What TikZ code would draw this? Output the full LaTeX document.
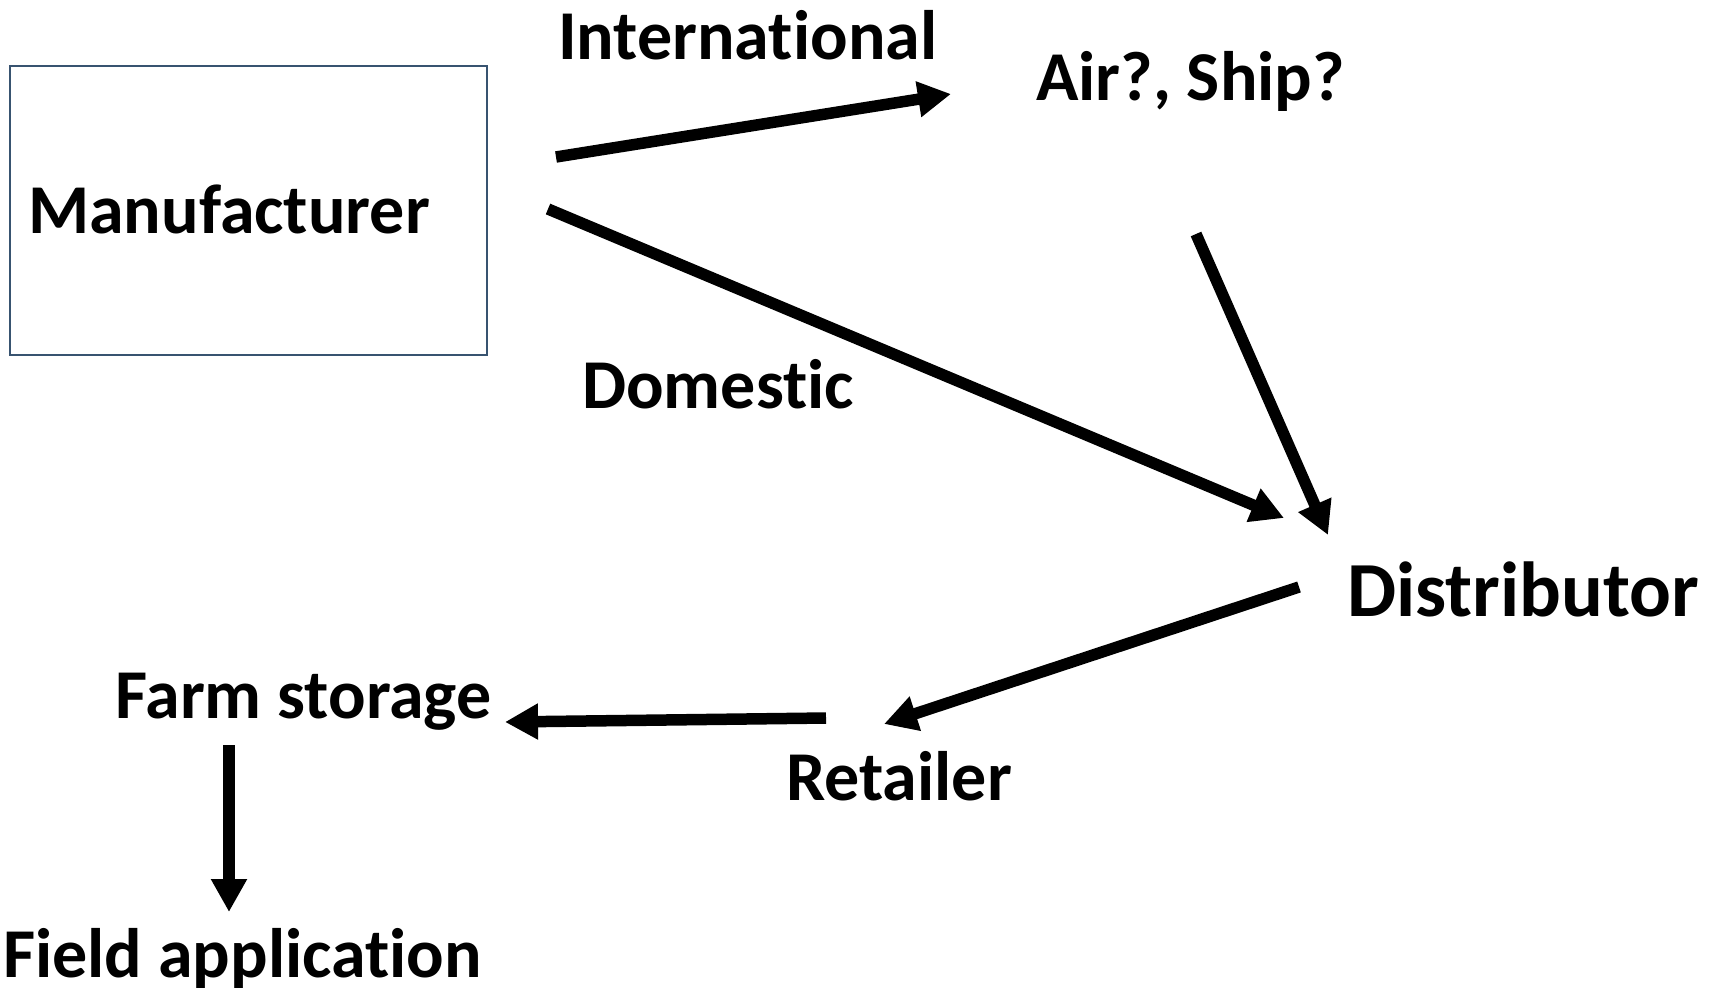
\documentclass[tikz,border=0pt]{standalone}
\usepackage{fontspec}
\setmainfont[Ligatures=NoCommon]{Carlito}
\usetikzlibrary{arrows.meta}
\definecolor{boxline}{RGB}{56,83,112}
\tikzset{
  lbl/.style={anchor=base west, inner sep=0pt, font=\fontsize{70}{80}\selectfont\bfseries},
  biglbl/.style={lbl, font=\fontsize{78}{88}\selectfont\bfseries},
  flow/.style={line width=11.5pt, -{Triangle[length=33pt,width=34pt]}}
}
\begin{document}
\begin{tikzpicture}[x=1pt,y=-1pt]
\useasboundingbox (0,0) rectangle (1712,993);
\node[draw=boxline, line width=1.6pt, minimum width=477pt, minimum height=289pt, anchor=north west, inner sep=0pt] (box) at (9,65) {};
\node[lbl] (manu) at (28,233) {Manufacturer};
\node[lbl] (intl) at (558,59) {International};
\node[lbl] (air) at (1036,100) {Air?, Ship?};
\node[lbl] (dom) at (582,408) {Domestic};
\node[biglbl] (dist) at (1347,616) {Distributor};
\node[lbl] (farm) at (115,718) {Farm storage};
\node[lbl] (ret) at (786,800) {Retailer};
\node[lbl] (field) at (3,977) {Field application};
\coordinate (i1) at (556,157);
\coordinate (i2) at (951,94);
\coordinate (d1) at (548,209);
\coordinate (d2) at (1284,518);
\coordinate (a1) at (1196,234);
\coordinate (a2) at (1328,535);
\coordinate (r1) at (1299,587);
\coordinate (r2) at (884,724);
\coordinate (f1) at (826,718);
\coordinate (f2) at (505,722);
\coordinate (g1) at (229,745);
\coordinate (g2) at (229,912);
\draw[flow] (i1) -- (i2);
\draw[flow] (d1) -- (d2);
\draw[flow] (a1) -- (a2);
\draw[flow] (r1) -- (r2);
\draw[flow] (f1) -- (f2);
\draw[flow] (g1) -- (g2);
\end{tikzpicture}
\end{document}
